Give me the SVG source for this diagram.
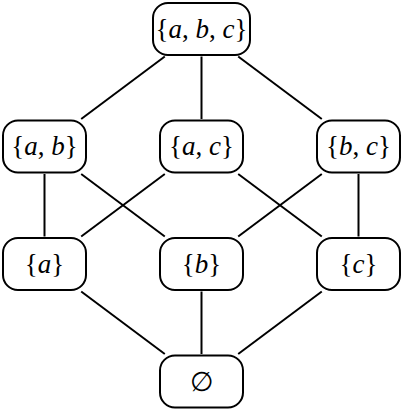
<svg xmlns="http://www.w3.org/2000/svg" width="404" height="414" viewBox="0 0 404 414">
<style>
.box{fill:#fff;stroke:#000;stroke-width:2}
.edge{stroke:#000;stroke-width:2;fill:none}
text{font-family:"Liberation Serif","DejaVu Serif",serif;font-size:27px;text-anchor:middle;fill:#000}
.v{font-style:italic}
</style>
<rect width="404" height="414" fill="#fff"/>
<g id="edges">
<line class="edge" x1="164.8" y1="56.5" x2="81.2" y2="119"/>
<line class="edge" x1="201.5" y1="56.5" x2="201.5" y2="119"/>
<line class="edge" x1="238.2" y1="56.5" x2="321.8" y2="119"/>
<line class="edge" x1="44.5" y1="174" x2="44.5" y2="236.5"/>
<line class="edge" x1="81.2" y1="174" x2="164.8" y2="236.5"/>
<line class="edge" x1="164.8" y1="174" x2="81.2" y2="236.5"/>
<line class="edge" x1="238.2" y1="174" x2="321.8" y2="236.5"/>
<line class="edge" x1="321.8" y1="174" x2="238.2" y2="236.5"/>
<line class="edge" x1="358.5" y1="174" x2="358.5" y2="236.5"/>
<line class="edge" x1="81.2" y1="291.5" x2="164.8" y2="354"/>
<line class="edge" x1="201.5" y1="291.5" x2="201.5" y2="354"/>
<line class="edge" x1="321.8" y1="291.5" x2="238.2" y2="354"/>
</g>
<g id="abc"><rect class="box" x="153" y="3" width="97" height="52" rx="15"/><text x="201.5" y="37.5">{<tspan class="v">a</tspan>, <tspan class="v">b</tspan>, <tspan class="v">c</tspan>}</text></g>
<g id="ab"><rect class="box" x="3" y="120.5" width="83" height="52" rx="15"/><text x="44.5" y="155">{<tspan class="v">a</tspan>, <tspan class="v">b</tspan>}</text></g>
<g id="ac"><rect class="box" x="160" y="120.5" width="83" height="52" rx="15"/><text x="201.5" y="155">{<tspan class="v">a</tspan>, <tspan class="v">c</tspan>}</text></g>
<g id="bc"><rect class="box" x="317" y="120.5" width="83" height="52" rx="15"/><text x="358.5" y="155">{<tspan class="v">b</tspan>, <tspan class="v">c</tspan>}</text></g>
<g id="a"><rect class="box" x="3" y="238" width="83" height="52" rx="15"/><text x="44.5" y="272.5">{<tspan class="v">a</tspan>}</text></g>
<g id="b"><rect class="box" x="160" y="238" width="83" height="52" rx="15"/><text x="201.5" y="272.5">{<tspan class="v">b</tspan>}</text></g>
<g id="c"><rect class="box" x="317" y="238" width="83" height="52" rx="15"/><text x="358.5" y="272.5">{<tspan class="v">c</tspan>}</text></g>
<g id="empty"><rect class="box" x="160" y="355.5" width="83" height="52" rx="15"/><text x="201.5" y="391" style="font-family:'DejaVu Serif',serif;font-size:27px">∅</text></g>
</svg>
